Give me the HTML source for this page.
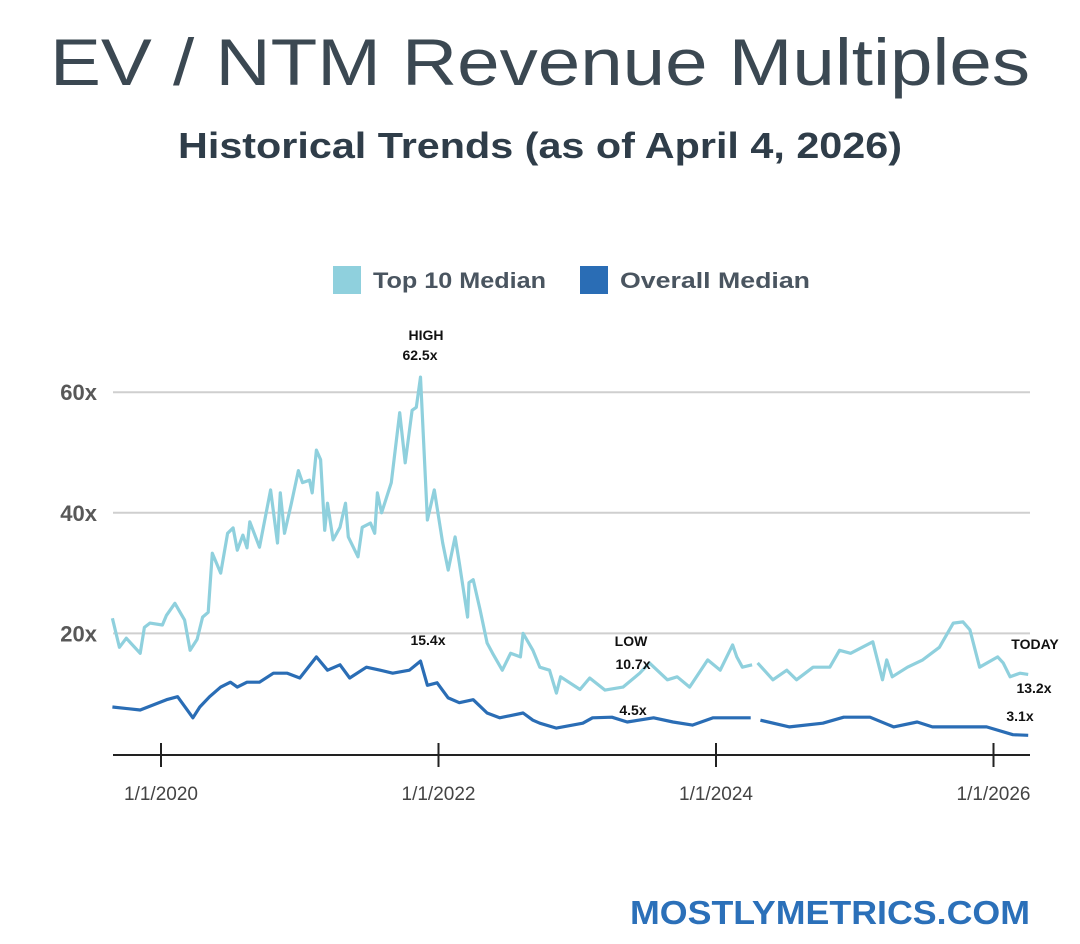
<!DOCTYPE html>
<html><head><meta charset="utf-8"><style>
html,body{margin:0;padding:0;background:#fff;}
svg{display:block;font-family:"Liberation Sans",sans-serif;}
</style></head><body>
<svg id="chart" width="1080" height="944" viewBox="0 0 1080 944" xmlns="http://www.w3.org/2000/svg">
<rect width="1080" height="944" fill="#fff"/>
<text x="50" y="85" font-size="66" fill="#3b4852" textLength="980" lengthAdjust="spacingAndGlyphs">EV / NTM Revenue Multiples</text>
<text x="178" y="158" font-size="36" font-weight="bold" fill="#2f3d49" textLength="724" lengthAdjust="spacingAndGlyphs">Historical Trends (as of  April 4, 2026)</text>
<g>
<rect x="333" y="266" width="28" height="28" fill="#8fd0dd"/>
<text x="373" y="288" font-size="22" font-weight="bold" fill="#4a5560" textLength="173" lengthAdjust="spacingAndGlyphs">Top 10 Median</text>
<rect x="580" y="266" width="28" height="28" fill="#2a6db5"/>
<text x="620" y="288" font-size="22" font-weight="bold" fill="#4a5560" textLength="190" lengthAdjust="spacingAndGlyphs">Overall Median</text>
</g>
<g id="grid"></g>
<g id="axes"></g>
<g id="series"></g>
<g id="annos" font-weight="bold" font-size="14" fill="#111"></g>
<text x="630" y="924" font-size="33" font-weight="bold" fill="#2b70b9" textLength="400" lengthAdjust="spacingAndGlyphs">MOSTLYMETRICS.COM</text>
</svg>
<script>
const yTicks=[20,40,60];
const yTickLabels=["20x","40x","60x"];
const xTicks=[2020,2022,2024,2026];
const xTickLabels=["1/1/2020","1/1/2022","1/1/2024","1/1/2026"];
const top10Dates=[2019.65,2019.70,2019.75,2019.85,2019.88,2019.92,2020.01,2020.04,2020.10,2020.17,2020.21,2020.26,2020.30,2020.34,2020.37,2020.43,2020.48,2020.52,2020.55,2020.59,2020.62,2020.64,2020.71,2020.79,2020.84,2020.86,2020.89,2020.94,2020.99,2021.02,2021.07,2021.09,2021.12,2021.15,2021.18,2021.20,2021.24,2021.29,2021.33,2021.35,2021.42,2021.45,2021.51,2021.54,2021.56,2021.59,2021.66,2021.72,2021.76,2021.81,2021.84,2021.87,2021.92,2021.97,2022.03,2022.07,2022.12,2022.15,2022.21,2022.22,2022.25,2022.30,2022.35,2022.39,2022.46,2022.52,2022.59,2022.61,2022.68,2022.73,2022.80,2022.85,2022.88,2023.02,2023.09,2023.20,2023.33,2023.45,2023.52,2023.65,2023.72,2023.81,2023.94,2024.03,2024.12,2024.15,2024.19,2024.26,2024.28,2024.30,2024.41,2024.51,2024.58,2024.70,2024.82,2024.89,2024.97,2025.13,2025.20,2025.23,2025.27,2025.38,2025.49,2025.61,2025.71,2025.78,2025.83,2025.90,2026.03,2026.07,2026.12,2026.19,2026.25];
const top10Values=[22.5,17.7,19.2,16.7,21,21.7,21.4,23,25,22.2,17.2,19,22.7,23.5,33.3,30,36.6,37.5,33.8,36.3,34.2,38.5,34.3,43.8,35,43.3,36.6,41.6,47,45,45.4,43.3,50.4,48.8,37.1,41.6,35.5,37.6,41.6,36,32.7,37.6,38.3,36.6,43.3,40,45,56.6,48.3,57,57.5,62.5,38.8,43.8,35,30.5,36,31.7,22.7,28.4,28.9,23.9,18.4,16.7,13.9,16.7,16.1,20,17.2,14.4,13.9,10.1,12.8,10.7,12.6,10.6,11.1,13.4,15.1,12.3,12.8,11.1,15.6,13.9,18.1,16.1,14.4,14.8,null,15.1,12.3,13.9,12.3,14.4,14.4,17.2,16.7,18.6,12.3,15.6,12.8,14.4,15.6,17.7,21.7,21.9,20.6,14.4,16.1,15.1,12.8,13.4,13.2];
const overallDates=[2019.65,2019.85,2020.04,2020.12,2020.23,2020.28,2020.35,2020.43,2020.50,2020.55,2020.62,2020.71,2020.81,2020.91,2021.00,2021.12,2021.20,2021.29,2021.36,2021.48,2021.58,2021.67,2021.79,2021.87,2021.92,2021.99,2022.07,2022.15,2022.25,2022.35,2022.44,2022.61,2022.68,2022.73,2022.85,2023.04,2023.11,2023.25,2023.36,2023.55,2023.69,2023.83,2023.98,2024.25,2024.28,2024.32,2024.53,2024.77,2024.92,2025.11,2025.28,2025.45,2025.56,2025.83,2025.95,2026.14,2026.25];
const overallValues=[7.8,7.3,9,9.5,6,7.8,9.5,11.1,11.9,11.1,11.9,11.9,13.4,13.4,12.6,16.1,13.9,14.8,12.6,14.4,13.9,13.4,13.9,15.4,11.4,11.8,9.3,8.5,9,6.8,6,6.8,5.6,5.1,4.3,5.1,6,6.1,5.3,6,5.3,4.8,6,6,null,5.6,4.5,5.1,6.1,6.1,4.5,5.3,4.5,4.5,4.5,3.2,3.1];
const annoLabels=[["HIGH",426,340],["62.5x",420,360],["15.4x",428,645],["LOW",631,646],["10.7x",633,669],["4.5x",633,715],["TODAY",1035,649],["13.2x",1034,693],["3.1x",1020,721]];

const NS="http://www.w3.org/2000/svg";
const X0=113,X1=1030;
function xs(d){return 161+(d-2020)*138.75;}
function ys(v){return 754-v*6.03;}
function mk(tag,attrs,parent){const e=document.createElementNS(NS,tag);for(const k in attrs)e.setAttribute(k,attrs[k]);parent.appendChild(e);return e;}
const grid=document.getElementById('grid'),axes=document.getElementById('axes'),series=document.getElementById('series'),annos=document.getElementById('annos');
yTicks.forEach((t,i)=>{
  const l=mk('line',{x1:X0,x2:X1,y1:ys(t),y2:ys(t),stroke:'#cfcfcf','stroke-width':2},grid);
  
  
  const tx=mk('text',{x:97,y:ys(t)+8,'text-anchor':'end','font-size':22,'font-weight':'bold',fill:'#585858'},axes);
  tx.textContent=yTickLabels[i];
  
  
});
const ax=mk('line',{x1:X0,x2:X1,y1:755,y2:755,stroke:'#222','stroke-width':2},axes);


xTicks.forEach((t,i)=>{
  const tk=mk('line',{x1:xs(t),x2:xs(t),y1:743,y2:767,stroke:'#222','stroke-width':2},axes);
  
  
  const tx=mk('text',{x:xs(t),y:800,'text-anchor':'middle','font-size':19,fill:'#444'},axes);
  tx.textContent=xTickLabels[i];
  
  
});
function pathFor(dates,vals){let d='',pen=false;dates.forEach((dt,i)=>{const v=vals[i];if(v===null||v===undefined){pen=false;return;}d+=(pen?'L':'M')+xs(dt).toFixed(1)+' '+ys(v).toFixed(1);pen=true;});return d;}
const p1=mk('path',{d:pathFor(top10Dates,top10Values),fill:'none',stroke:'#8fd0dd','stroke-width':3.2,'stroke-linejoin':'round'},series);


const p2=mk('path',{d:pathFor(overallDates,overallValues),fill:'none',stroke:'#2a6db5','stroke-width':3.2,'stroke-linejoin':'round'},series);


annoLabels.forEach(a=>{
  const t=mk('text',{x:a[1],y:a[2],'text-anchor':'middle'},annos);
  t.textContent=a[0];
  
  
});
</script>
</body></html>
